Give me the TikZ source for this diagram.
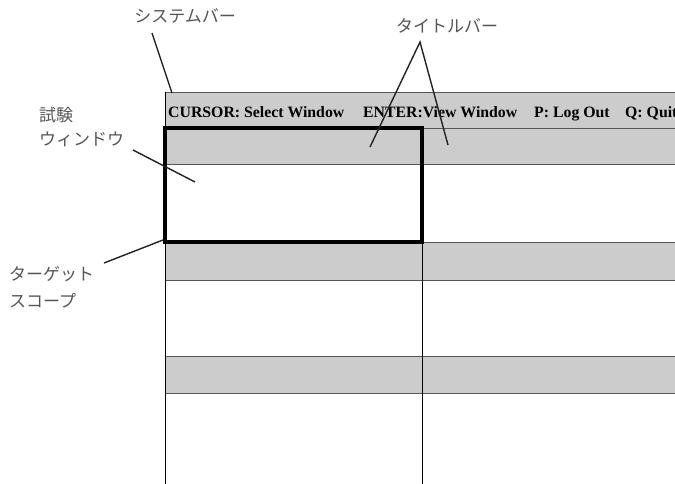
\documentclass[tikz,border=0pt]{standalone}
\usepackage{fontspec}
\setmainfont{Liberation Serif}
\newfontfamily\jpfont{Noto Sans CJK JP}
\definecolor{bargrey}{HTML}{CCCCCC}
\definecolor{edgegrey}{HTML}{555555}
\definecolor{labelgrey}{HTML}{555555}
\definecolor{leadcol}{HTML}{222222}
\begin{document}
\begin{tikzpicture}[x=1pt,y=-1pt,
  jplabel/.style={font=\jpfont\fontsize{17}{24}\selectfont, text=labelgrey, inner sep=0pt, align=left},
  menutext/.style={font=\bfseries\fontsize{15.8}{18}\selectfont, inner sep=0pt, anchor=base west},
  lead/.style={draw=leadcol, line width=1.4pt},
  bar/.style={fill=bargrey, draw=edgegrey, line width=0.9pt},
  thin/.style={draw=black, line width=0.9pt},
  scopebox/.style={draw=black, line width=4.5pt}]
\useasboundingbox (0,0) rectangle (675,483);
\clip (0,0) rectangle (675,483);
\fill[white] (0,0) rectangle (675,483);
% system bar
\draw[bar] (165,92) rectangle (680,128);
% title bars
\draw[bar] (165,128) rectangle (680,164);
\draw[bar] (165,242) rectangle (680,280);
\draw[bar] (165,356) rectangle (680,393);
% vertical lines
\draw[thin] (165,92) -- (165,490);
\draw[thin] (422,242) -- (422,490);
% menu text
\node[menutext] (m1) at (168,117) {CURSOR: Select Window};
\node[menutext] (m2) at (363,117) {ENTER:View Window};
\node[menutext] (m3) at (534,117) {P: Log Out};
\node[menutext] (m4) at (625,117) {Q: Quit};
% target scope (thick box)
\draw[scopebox] (165,128) rectangle (422,242);
% labels
\node[jplabel, anchor=center] (sysbar) at (185,16) {システムバー};
\node[jplabel, anchor=center] (titlebar) at (447,26) {タイトルバー};
\node[jplabel, anchor=west, font=\jpfont\fontsize{17}{24}\selectfont] (testwin) at (39,127) {試験\\ウィンドウ};
\node[jplabel, anchor=west, font=\jpfont\fontsize{17}{27}\selectfont] (target) at (9,287) {ターゲット\\スコープ};
% leader line ends
\coordinate (sysS) at (152,33);
\coordinate (sysE) at (172,93);
\coordinate (titA) at (420,42);
\coordinate (titL) at (370,147);
\coordinate (titR) at (448,145);
\coordinate (twS) at (133,150);
\coordinate (twE) at (195,182);
\coordinate (tgS) at (104,263);
\coordinate (tgE) at (163,240);
\draw[lead] (sysS) -- (sysE);
\draw[lead] (titL) -- (titA) -- (titR);
\draw[lead] (twS) -- (twE);
\draw[lead] (tgS) -- (tgE);
\end{tikzpicture}
\end{document}
